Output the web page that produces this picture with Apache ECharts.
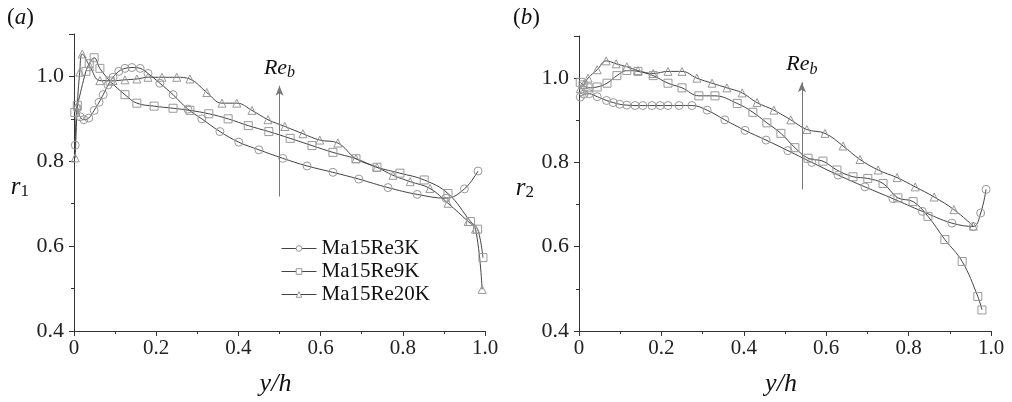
<!DOCTYPE html>
<html>
<head>
<meta charset="utf-8">
<script src="https://cdn.jsdelivr.net/npm/echarts@6/dist/echarts.min.js"></script>
<style>
  html, body { margin: 0; padding: 0; background: #fff; }
  #chart { width: 1012px; height: 402px; }
</style>
</head>
<body>
<div id="chart"></div>
<script>
// series names (legend)
var names = ['Ma15Re3K', 'Ma15Re9K', 'Ma15Re20K'];
var xTicks = [0, 0.2, 0.4, 0.6, 0.8, 1.0];
var yTicks = [0.4, 0.6, 0.8, 1.0];

// panel (a): r1 vs y/h
var a3k = [[0.003,0.838],[0.008,0.925],[0.015,0.905],[0.024,0.898],[0.036,0.902],[0.049,0.92],[0.061,0.939],[0.071,0.957],[0.083,0.98],[0.095,0.998],[0.109,1.012],[0.124,1.019],[0.141,1.021],[0.161,1.019],[0.180,1.007],[0.209,0.984],[0.241,0.957],[0.277,0.923],[0.311,0.9],[0.355,0.87],[0.401,0.845],[0.45,0.827],[0.508,0.807],[0.567,0.789],[0.630,0.774],[0.693,0.758],[0.764,0.738],[0.835,0.722],[0.905,0.713],[0.95,0.735],[0.983,0.777]];
var a9k = [[0.002,0.915],[0.008,0.932],[0.029,1.012],[0.037,1.03],[0.049,1.044],[0.063,1.019],[0.088,0.989],[0.124,0.957],[0.153,0.937],[0.195,0.93],[0.241,0.925],[0.282,0.92],[0.328,0.912],[0.375,0.9],[0.424,0.884],[0.474,0.870],[0.526,0.854],[0.579,0.837],[0.63,0.821],[0.686,0.806],[0.737,0.786],[0.793,0.772],[0.852,0.756],[0.91,0.724],[0.965,0.658],[0.982,0.64],[0.995,0.573]];
var a20k = [[0.003,0.808],[0.008,0.93],[0.014,1.01],[0.02,1.053],[0.039,1.023],[0.063,0.99],[0.095,0.99],[0.124,0.992],[0.153,0.994],[0.18,0.998],[0.214,0.998],[0.25,0.998],[0.282,0.994],[0.323,0.962],[0.36,0.937],[0.396,0.937],[0.433,0.92],[0.472,0.898],[0.513,0.882],[0.557,0.865],[0.598,0.85],[0.642,0.843],[0.686,0.806],[0.737,0.786],[0.776,0.767],[0.818,0.752],[0.866,0.736],[0.91,0.701],[0.959,0.658],[0.977,0.64],[0.993,0.498]];

// panel (b): r2 vs y/h
var b3k = [[0.003,0.955],[0.012,0.962],[0.025,0.963],[0.044,0.956],[0.067,0.947],[0.083,0.942],[0.099,0.938],[0.116,0.936],[0.136,0.935],[0.155,0.935],[0.177,0.935],[0.197,0.935],[0.216,0.935],[0.243,0.935],[0.274,0.935],[0.311,0.924],[0.354,0.901],[0.403,0.876],[0.454,0.853],[0.507,0.828],[0.565,0.80],[0.629,0.77],[0.694,0.742],[0.762,0.714],[0.833,0.684],[0.905,0.656],[0.957,0.648],[0.975,0.68],[0.988,0.736]];
var b9k = [[0.003,0.99],[0.01,0.984],[0.022,0.977],[0.044,0.979],[0.068,0.988],[0.092,1.006],[0.116,1.018],[0.143,1.016],[0.18,1.006],[0.216,0.988],[0.25,0.977],[0.291,0.958],[0.33,0.958],[0.384,0.94],[0.422,0.919],[0.456,0.894],[0.49,0.869],[0.524,0.835],[0.556,0.81],[0.592,0.803],[0.626,0.782],[0.665,0.766],[0.701,0.762],[0.738,0.75],[0.774,0.716],[0.811,0.707],[0.847,0.672],[0.888,0.617],[0.93,0.565],[0.968,0.482],[0.978,0.45]];
var b20k = [[0.003,0.975],[0.012,0.985],[0.022,1.0],[0.044,1.02],[0.066,1.041],[0.09,1.034],[0.116,1.027],[0.143,1.018],[0.18,1.011],[0.216,1.016],[0.25,1.016],[0.286,1.0],[0.323,0.988],[0.359,0.977],[0.396,0.965],[0.432,0.942],[0.473,0.924],[0.514,0.901],[0.553,0.878],[0.597,0.869],[0.641,0.839],[0.682,0.807],[0.726,0.782],[0.772,0.764],[0.816,0.742],[0.862,0.718],[0.91,0.688],[0.957,0.649]];

// Re_b arrows: [x, yFrom, yTo]
var arrowA = [0.5, 0.717, 0.978];
var arrowB = [0.541, 0.736, 0.99];

var serif = '"Liberation Serif", "Times New Roman", Times, serif';
var symbols = ['circle', 'rect', 'triangle'];

function xAxisFor(idx) {
    return {
        type: 'value', gridIndex: idx, min: 0, max: 1, interval: 0.2,
        name: 'y/h', nameLocation: 'middle', nameGap: 40,
        nameTextStyle: { fontFamily: serif, fontStyle: 'italic', fontSize: 26, color: '#111', padding: [0, 8, 0, 0] },
        axisLine: { lineStyle: { color: '#333', width: 1 } },
        axisTick: { inside: false, length: 5, lineStyle: { color: '#333' } },
        minorTick: { show: true, splitNumber: 2, length: 3, lineStyle: { color: '#333' } },
        splitLine: { show: false },
        axisLabel: {
            fontFamily: serif, fontSize: 21, color: '#222', margin: 7,
            formatter: function (v) { return v === 0 ? '0' : v.toFixed(1); }
        }
    };
}

function yAxisFor(idx, sub) {
    return {
        type: 'value', gridIndex: idx, min: 0.4, max: 1.1, interval: 0.2,
        name: '{r|r}{s|' + sub + '}', nameLocation: 'middle', nameGap: 45, nameRotate: 0,
        nameTextStyle: {
            padding: [10, 0, 0, 0],
            rich: {
                r: { fontFamily: serif, fontStyle: 'italic', fontSize: 25, color: '#111' },
                s: { fontFamily: serif, fontSize: 17, color: '#111', padding: [9, 0, 0, 0] }
            }
        },
        axisLine: { show: true, lineStyle: { color: '#333', width: 1 } },
        axisTick: { show: true, inside: false, length: 5, lineStyle: { color: '#333' } },
        minorTick: { show: true, splitNumber: 2, length: 3, lineStyle: { color: '#333' } },
        splitLine: { show: false },
        axisLabel: {
            fontFamily: serif, fontSize: 22, color: '#222', margin: 10, showMaxLabel: false,
            formatter: function (v) { return v.toFixed(1); }
        }
    };
}

function curve(name, data, idx, k) {
    return {
        name: name, type: 'line', xAxisIndex: idx, yAxisIndex: idx,
        data: data, smooth: 0.4, symbol: symbols[k], symbolSize: 8,
        lineStyle: { color: '#444', width: 1 },
        itemStyle: { color: 'rgba(255,255,255,0)', borderColor: '#999', borderWidth: 1 },
        emphasis: { disabled: true },
        z: 3
    };
}

function arrow(arr, idx) {
    return {
        type: 'line', xAxisIndex: idx, yAxisIndex: idx, data: [],
        markLine: {
            silent: true, animation: false,
            symbol: ['none', 'arrow'], symbolSize: [6, 10],
            lineStyle: { color: '#777', width: 1, type: 'solid' },
            label: {
                show: true, position: 'end', distance: 5,
                formatter: '{r|Re}{s|b}',
                rich: {
                    r: { fontFamily: serif, fontStyle: 'italic', fontSize: 22, color: '#111' },
                    s: { fontFamily: serif, fontStyle: 'italic', fontSize: 16, color: '#111', padding: [10, 0, 0, 0] }
                }
            },
            data: [[{ coord: [arr[0], arr[1]] }, { coord: [arr[0], arr[2]] }]]
        }
    };
}

function panelTag(letter, x) {
    return {
        type: 'text', left: x, top: 6,
        style: {
            text: '({i|' + letter + '})',
            fontFamily: serif, fontSize: 23, fill: '#111',
            rich: { i: { fontFamily: serif, fontStyle: 'italic', fontSize: 23, color: '#111' } }
        }
    };
}

var chart = echarts.init(document.getElementById('chart'));
chart.setOption({
    animation: false,
    backgroundColor: '#fff',
    grid: [
        { left: 74, top: 34, width: 411, height: 307 },
        { left: 579, top: 36, width: 412, height: 306 }
    ],
    xAxis: [xAxisFor(0), xAxisFor(1)],
    yAxis: [yAxisFor(0, '1'), yAxisFor(1, '2')],
    legend: {
        data: names, orient: 'vertical', left: 276, top: 233,
        itemWidth: 35, itemHeight: 7, itemGap: 2,
        itemStyle: { color: '#fff', borderColor: '#999', borderWidth: 1 },
        lineStyle: { color: '#444', width: 1 },
        textStyle: { fontFamily: serif, fontSize: 21, color: '#111' }
    },
    graphic: [panelTag('a', 7), panelTag('b', 513)],
    series: [
        curve(names[0], a3k, 0, 0),
        curve(names[1], a9k, 0, 1),
        curve(names[2], a20k, 0, 2),
        curve(names[0], b3k, 1, 0),
        curve(names[1], b9k, 1, 1),
        curve(names[2], b20k, 1, 2),
        arrow(arrowA, 0),
        arrow(arrowB, 1)
    ]
});
</script>
</body>
</html>
